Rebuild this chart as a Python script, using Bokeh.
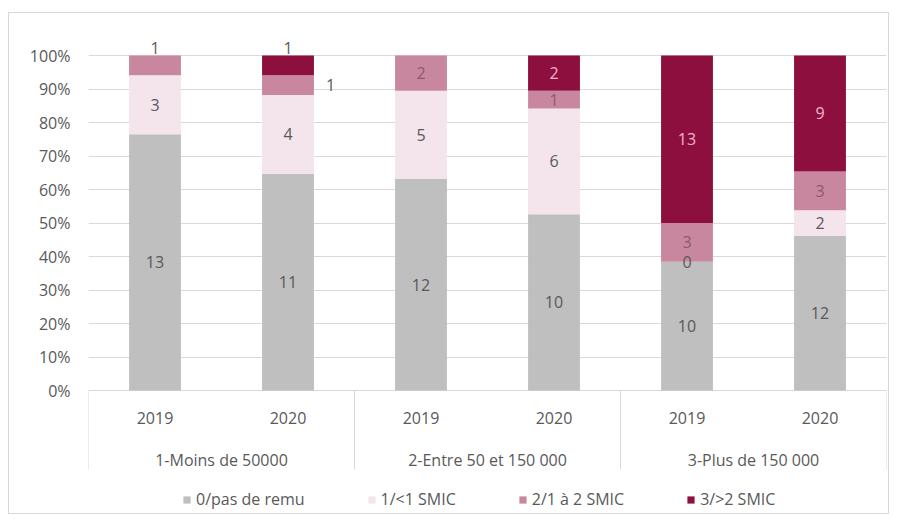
from bokeh.plotting import figure
from bokeh.models import (FactorRange, FixedTicker, NumeralTickFormatter,
                          ColumnDataSource, Range1d)
from bokeh.core.properties import value
from bokeh.embed import file_html
from bokeh.resources import INLINE

# ---------------- data ----------------
groups = ["1-Moins de 50000", "2-Entre 50 et 150 000", "3-Plus de 150 000"]
years = ["2019", "2020"]
series = ["0/pas de remu", "1/<1 SMIC", "2/1 à 2 SMIC", "3/>2 SMIC"]
pas_de_remu = [13, 11, 12, 10, 10, 12]
moins_1_smic = [3, 4, 5, 6, 0, 2]
de_1_a_2_smic = [1, 1, 2, 1, 3, 3]
plus_2_smic = [0, 1, 0, 2, 13, 9]
y_ticks = [0, 0.1, 0.2, 0.3, 0.4, 0.5, 0.6, 0.7, 0.8, 0.9, 1.0]

# ---------------- style ----------------
colors = ["#BFBFBF", "#F3E5EB", "#C9879F", "#8C0F3E"]
label_colors = ["#595959", "#595959", "#8A5A6E", "#F5B5CC"]
FONT = "Open Sans"
TXT = "#595959"
FS = "16px"

factors = [(g, y) for g in groups for y in years]
counts = [pas_de_remu, moins_1_smic, de_1_a_2_smic, plus_2_smic]
totals = [sum(c[i] for c in counts) for i in range(len(factors))]
keys = ["s0", "s1", "s2", "s3"]

data = {"x": factors}
for k, c in zip(keys, counts):
    data[k] = [v / t for v, t in zip(c, totals)]
src = ColumnDataSource(data)

p = figure(width=881, height=502, output_backend="svg", toolbar_location=None,
           x_range=FactorRange(*factors, group_padding=0, factor_padding=0,
                               range_padding=0),
           y_range=Range1d(-0.367, 1.0418),
           x_axis_location=None,
           min_border_left=79, min_border_right=4, min_border_top=28,
           min_border_bottom=2)
p.outline_line_color = None
p.styles = {"border": "1px solid #D9D9D9", "margin-left": "8px",
            "margin-top": "12px"}
p.xgrid.grid_line_color = None
p.ygrid.ticker = FixedTicker(ticks=y_ticks)
p.ygrid.grid_line_color = "#D9D9D9"
p.ygrid.grid_line_width = 1

ax = p.yaxis[0]
ax.ticker = FixedTicker(ticks=y_ticks)
ax.formatter = NumeralTickFormatter(format="0%")
ax.axis_line_color = None
ax.major_tick_line_color = None
ax.minor_tick_line_color = None
ax.major_tick_out = 0
ax.major_tick_in = 0
ax.major_label_standoff = 18
ax.major_label_text_color = TXT
ax.major_label_text_font = FONT
ax.major_label_text_font_size = FS

p.vbar_stack(keys, x="x", width=0.39, color=colors, line_color=None,
             source=src, legend_label=series)

# ---------------- data labels ----------------
# placement overrides: (bar, series) -> "above" / "right"
overrides = {(0, 2): "above", (1, 3): "above", (1, 2): "right"}
lx, ly, lt, lc = [], [], [], []
for i, f in enumerate(factors):
    cum = 0.0
    for s in range(4):
        v = counts[s][i]
        share = v / totals[i]
        mid = cum + share / 2
        cum += share
        if v == 0 and s == 3:
            continue
        mode = overrides.get((i, s))
        if mode == "above":
            lx.append(f); ly.append(1.021); lc.append(TXT)
        elif mode == "right":
            lx.append((f[0], f[1], 0.32)); ly.append(mid); lc.append(TXT)
        else:
            lx.append(f); ly.append(mid); lc.append(label_colors[s])
        lt.append(str(v))
p.text(x=lx, y=ly, text=lt, text_color=lc, text_align="center",
       text_baseline="middle", text_font=value(FONT), text_font_size=FS)

# ---------------- category axis (drawn) ----------------
sep_x = [(groups[0], years[0], -0.5)] + [(g, years[-1], 0.5) for g in groups]
p.segment(x0=sep_x, y0=[0] * len(sep_x), x1=sep_x, y1=[-0.236] * len(sep_x),
          line_color="#D9D9D9", line_width=1)
p.text(x=factors, y=[-0.081] * len(factors), text=[f[1] for f in factors],
       text_color=TXT, text_align="center", text_baseline="middle",
       text_font=value(FONT), text_font_size=FS)
p.text(x=groups, y=[-0.206] * len(groups), text=groups,
       text_color=TXT, text_align="center", text_baseline="middle",
       text_font=value(FONT), text_font_size=FS)

# ---------------- legend ----------------
lg = p.legend[0]
lg.orientation = "horizontal"
lg.location = (94, 3)
lg.border_line_color = None
lg.background_fill_alpha = 0
lg.padding = 0
lg.margin = 0
lg.spacing = 62
lg.glyph_width = 9
lg.glyph_height = 9
lg.label_standoff = 5
lg.label_text_font = FONT
lg.label_text_font_size = FS
lg.label_text_color = TXT

open("out.html", "w").write(file_html(p, INLINE))
